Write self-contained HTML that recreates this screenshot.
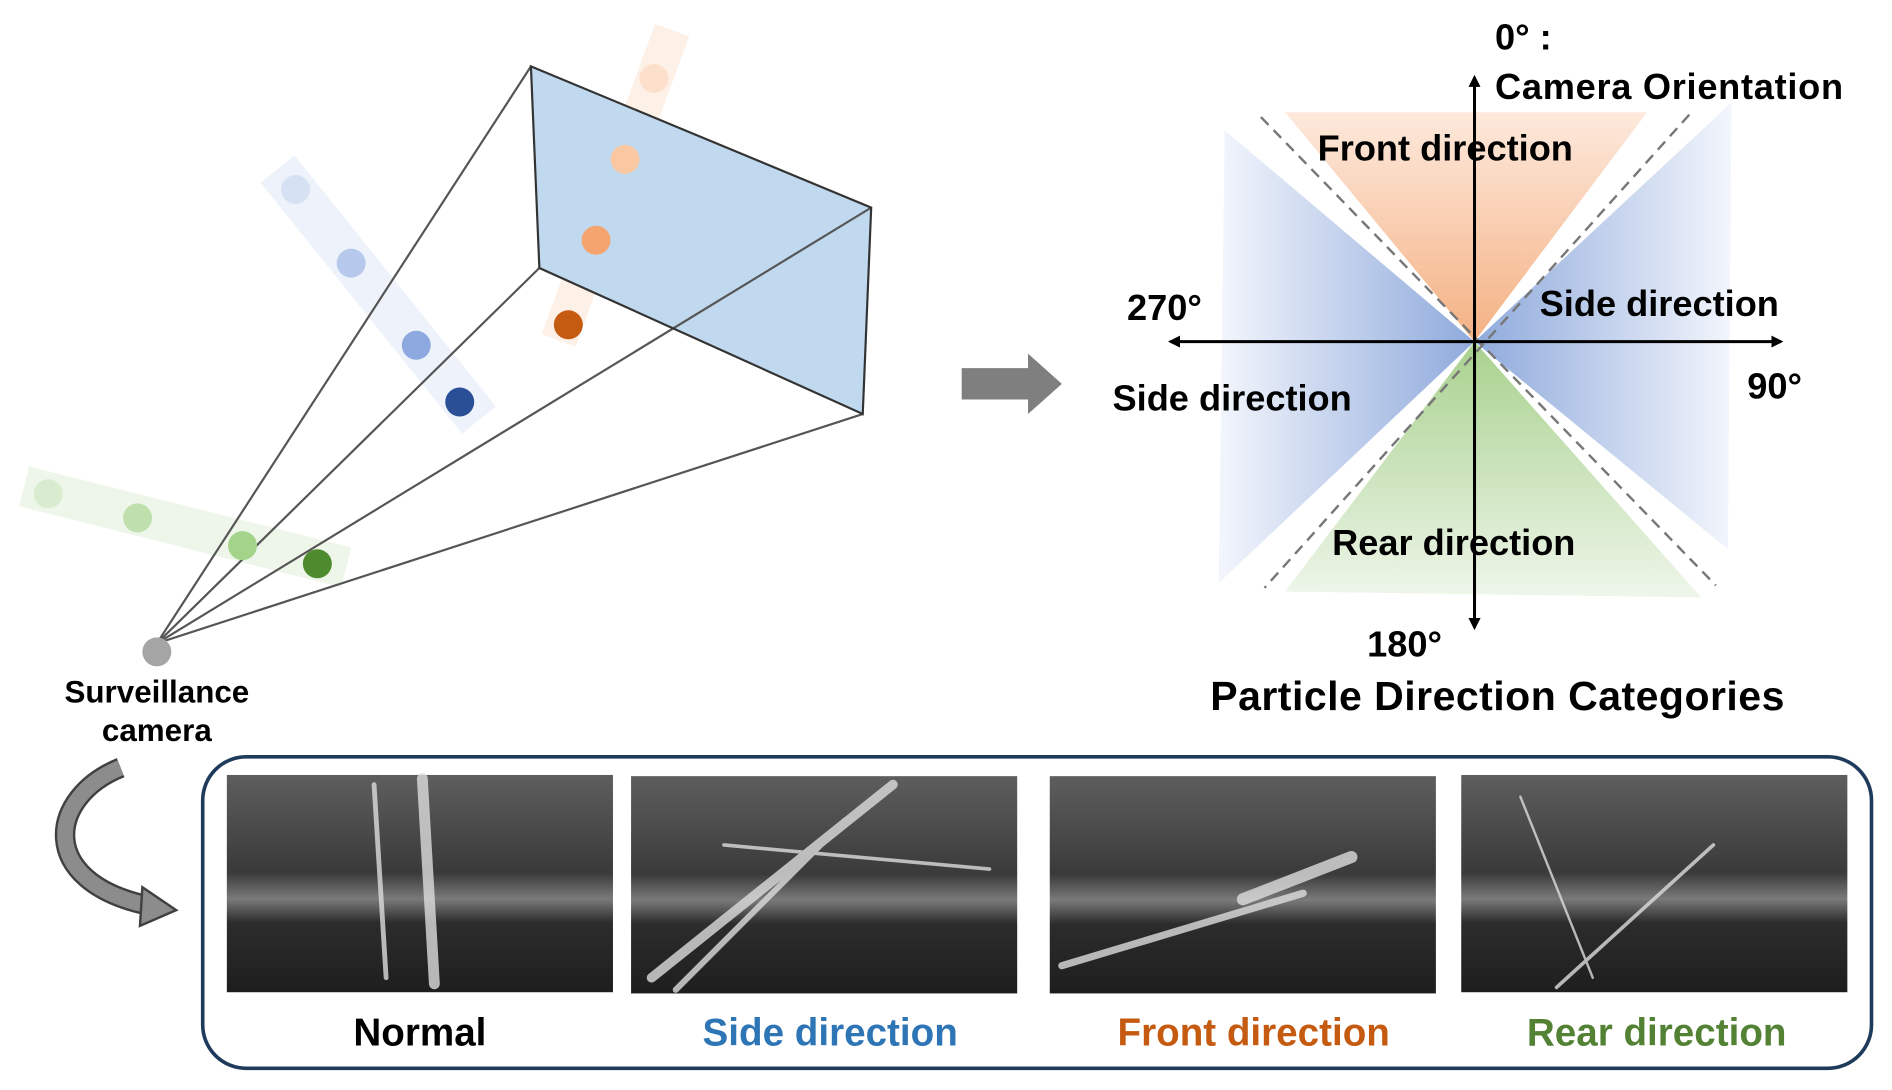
<!DOCTYPE html>
<html><head><meta charset="utf-8"><style>
html,body{margin:0;padding:0;background:#fff;}
svg{display:block;}
text{font-family:"Liberation Sans",sans-serif;font-weight:bold;}
</style></head><body>
<svg width="1892" height="1090" viewBox="0 0 1568 903" preserveAspectRatio="none" xmlns="http://www.w3.org/2000/svg">
<defs>
<linearGradient id="gor" x1="0" y1="1" x2="0" y2="0"><stop offset="0" stop-color="#f4b183"/><stop offset="1" stop-color="#fde9dc"/></linearGradient>
<linearGradient id="ggr" x1="0" y1="0" x2="0" y2="1"><stop offset="0" stop-color="#a9d18e"/><stop offset="1" stop-color="#eef6ea"/></linearGradient>
<linearGradient id="gbl" x1="1" y1="0" x2="0" y2="0"><stop offset="0" stop-color="#8faadc"/><stop offset="1" stop-color="#f3f6fc"/></linearGradient>
<linearGradient id="gbr" x1="0" y1="0" x2="1" y2="0"><stop offset="0" stop-color="#8faadc"/><stop offset="1" stop-color="#f3f6fc"/></linearGradient>
<linearGradient id="ph" x1="0" y1="0" x2="0" y2="1"><stop offset="0" stop-color="#5e5e5e"/><stop offset="0.45" stop-color="#3a3a3a"/><stop offset="0.57" stop-color="#7a7a7a"/><stop offset="0.68" stop-color="#2c2c2c"/><stop offset="1" stop-color="#1e1e1e"/></linearGradient>
<marker id="ah" markerWidth="10" markerHeight="10" refX="8" refY="5" orient="auto" markerUnits="userSpaceOnUse"><path d="M0,0 L10,5 L0,10 z" fill="#000"/></marker>
</defs>

<line x1="230" y1="140" x2="397" y2="348" stroke="#eef3fb" stroke-width="36"/>
<line x1="557" y1="25" x2="463" y2="282" stroke="#fdf0e7" stroke-width="30"/>
<line x1="20" y1="403" x2="287" y2="470" stroke="#eef6ea" stroke-width="34"/>

<polygon points="440,55 722,172 715,343 447,222" fill="#bdd7ee" opacity="0.95"/>
<g stroke="#555" stroke-width="1.8" fill="none">
<line x1="130" y1="533" x2="440" y2="55"/>
<line x1="130" y1="533" x2="447" y2="222"/>
<line x1="130" y1="533" x2="722" y2="172"/>
<line x1="130" y1="533" x2="715" y2="343"/>
<polygon points="440,55 722,172 715,343 447,222" stroke="#333"/>
</g>

<g>
<circle cx="245" cy="157" r="12" fill="#d6e1f3"/><circle cx="291" cy="218" r="12" fill="#b6c8ec"/>
<circle cx="345" cy="286" r="12" fill="#8ea9e0"/><circle cx="381" cy="333" r="12" fill="#2b4f97"/>
<circle cx="542" cy="65" r="12" fill="#fde0cc"/><circle cx="518" cy="132" r="12" fill="#fac7a3"/>
<circle cx="494" cy="199" r="12" fill="#f5a46f"/><circle cx="471" cy="269" r="12" fill="#c55a11"/>
<circle cx="40" cy="409" r="12" fill="#d9eccf"/><circle cx="114" cy="429" r="12" fill="#bfe0ad"/>
<circle cx="201" cy="452" r="12" fill="#a3d48a"/><circle cx="263" cy="467" r="12" fill="#4e8a2e"/>
<circle cx="130" cy="540" r="12" fill="#a5a5a5"/>
</g>
<text x="130" y="582" font-size="26" text-anchor="middle">Surveillance</text>
<text x="130" y="614" font-size="26" text-anchor="middle">camera</text>

<polygon points="797,305 852,305 852,293 880,318 852,343 852,331 797,331" fill="#7f7f7f"/>

<polygon points="1015,108 1222,283 1010,483" fill="url(#gbl)"/>
<polygon points="1435,85 1222,283 1432,455" fill="url(#gbr)"/>
<polygon points="1065,93 1365,93 1222,283" fill="url(#gor)"/>
<polygon points="1222,283 1065,490 1410,495" fill="url(#ggr)"/>
<g stroke="#777" stroke-width="2" stroke-dasharray="9,6">
<line x1="1045" y1="97" x2="1422" y2="485"/>
<line x1="1400" y1="95" x2="1048" y2="487"/>
</g>
<g stroke="#000" stroke-width="2.5">
<line x1="1222" y1="520" x2="1222" y2="64" marker-end="url(#ah)"/>
<line x1="1222" y1="283" x2="1222" y2="520" marker-end="url(#ah)"/>
<line x1="1222" y1="283" x2="1476" y2="283" marker-end="url(#ah)"/>
<line x1="1222" y1="283" x2="970" y2="283" marker-end="url(#ah)"/>
</g>
<text x="1239" y="41" font-size="30">0° :</text>
<text x="1239" y="82" font-size="30" letter-spacing="0.6">Camera Orientation</text>
<text x="1092" y="133" font-size="30">Front direction</text>
<text x="934" y="265" font-size="30">270°</text>
<text x="1276" y="262" font-size="30">Side direction</text>
<text x="922" y="340" font-size="30">Side direction</text>
<text x="1448" y="330" font-size="30">90°</text>
<text x="1104" y="460" font-size="30">Rear direction</text>
<text x="1133" y="544" font-size="30">180°</text>
<text x="1003" y="588" font-size="34" letter-spacing="0.4">Particle Direction Categories</text>

<path d="M100,636 C40,660 30,730 122,750" fill="none" stroke="#404040" stroke-width="17"/>
<path d="M100,636 C40,660 30,730 122,750" fill="none" stroke="#8c8c8c" stroke-width="13"/>
<polygon points="118,735 146,754 116,767" fill="#8c8c8c" stroke="#404040" stroke-width="2"/>

<rect x="168" y="627" width="1383" height="258" rx="36" fill="none" stroke="#1f3b5c" stroke-width="3"/>
<g>
<rect x="188" y="642" width="320" height="180" fill="url(#ph)"/>
<rect x="523" y="643" width="320" height="180" fill="url(#ph)"/>
<rect x="870" y="643" width="320" height="180" fill="url(#ph)"/>
<rect x="1211" y="642" width="320" height="180" fill="url(#ph)"/>
</g>
<g stroke="#ddd" stroke-linecap="round" opacity="0.8">
<line x1="350" y1="645" x2="360" y2="815" stroke-width="9"/>
<line x1="310" y1="650" x2="320" y2="810" stroke-width="4"/>
<line x1="540" y1="810" x2="740" y2="650" stroke-width="8"/>
<line x1="560" y1="820" x2="700" y2="680" stroke-width="5"/>
<line x1="600" y1="700" x2="820" y2="720" stroke-width="3"/>
<line x1="1030" y1="745" x2="1120" y2="710" stroke-width="10"/>
<line x1="880" y1="800" x2="1080" y2="740" stroke-width="6"/>
<line x1="1290" y1="818" x2="1420" y2="700" stroke-width="3"/>
<line x1="1260" y1="660" x2="1320" y2="810" stroke-width="2"/>
</g>
<text x="348" y="866" font-size="32" text-anchor="middle" fill="#000">Normal</text>
<text x="688" y="866" font-size="32" text-anchor="middle" fill="#2e75b6">Side direction</text>
<text x="1039" y="866" font-size="32" text-anchor="middle" fill="#c55a11">Front direction</text>
<text x="1373" y="866" font-size="32" text-anchor="middle" fill="#548235">Rear direction</text>
</svg>
</body></html>
